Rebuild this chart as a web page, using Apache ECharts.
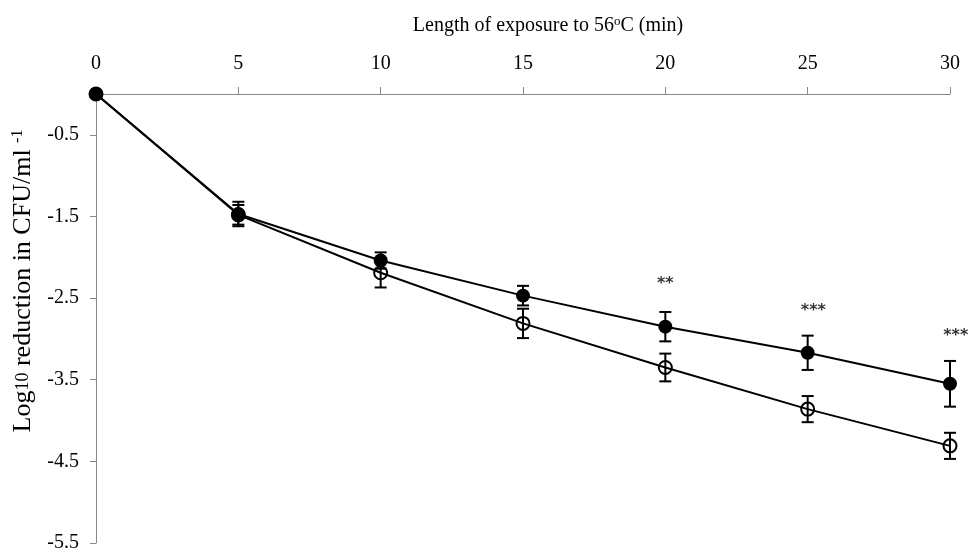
<!DOCTYPE html>
<html>
<head>
<meta charset="utf-8">
<script src="https://cdn.jsdelivr.net/npm/echarts@6/dist/echarts.min.js"></script>
<style>
  html, body { margin: 0; padding: 0; background: #fff; }
  #chart { width: 971px; height: 550px; }
</style>
</head>
<body>
<div id="chart"></div>
<script>
// exposure time (min)
const minutes = [0, 5, 10, 15, 20, 25, 30]
// filled circles
const filledMean = [0, -1.47, -2.04, -2.47, -2.85, -3.17, -3.55]
const filledErr = [0, 0.15, 0.10, 0.12, 0.18, 0.21, 0.28]
// open circles
const openMean = [0, -1.48, -2.19, -2.81, -3.35, -3.86, -4.31]
const openErr = [0, 0.12, 0.18, 0.18, 0.17, 0.16, 0.16]
// significance marks
const starX = [20, 25.2, 30.2]
const starY = [-2.33, -2.66, -2.96]
const starText = ['**', '***', '***']
// y tick labels
const yTicks = [-0.5, -1.5, -2.5, -3.5, -4.5, -5.5]

const FONT = 'Liberation Serif'

let myChart = echarts.init(document.getElementById('chart'))

// 误差线
function errorSeries (mean, err) {
  return {
    type: 'custom',
    z: 1,
    data: minutes.map((m, i) => [m, mean[i] + err[i], mean[i] - err[i]]),
    renderItem (params, api) {
      if (api.value(1) === api.value(2)) return null
      let top = api.coord([api.value(0), api.value(1)])
      let bottom = api.coord([api.value(0), api.value(2)])
      let w = 6
      let style = { stroke: '#000', lineWidth: 2 }
      return {
        type: 'group',
        children: [
          { type: 'line', shape: { x1: top[0], y1: top[1], x2: bottom[0], y2: bottom[1] }, style },
          { type: 'line', shape: { x1: top[0] - w, y1: top[1], x2: top[0] + w, y2: top[1] }, style },
          { type: 'line', shape: { x1: bottom[0] - w, y1: bottom[1], x2: bottom[0] + w, y2: bottom[1] }, style }
        ]
      }
    }
  }
}

let option = {
  animation: false,
  grid: { left: 96, right: 21, top: 94, bottom: 7, outerBoundsMode: 'none' },
  xAxis: {
    type: 'value',
    position: 'top',
    min: 0,
    max: 30,
    interval: 5,
    name: 'Length of exposure to 56{sup|o}C (min)',
    nameLocation: 'middle',
    nameGap: 57,
    nameTextStyle: {
      fontFamily: FONT, fontSize: 20, color: '#000',
      padding: [0, 0, 0, 50],
      rich: { sup: { fontFamily: FONT, fontSize: 13, verticalAlign: 'top', padding: [0, 0, 9, 0] } }
    },
    axisLine: { lineStyle: { color: '#888', width: 1 } },
    axisTick: { length: 7, lineStyle: { color: '#888' } },
    axisLabel: { margin: 20, fontFamily: FONT, fontSize: 20, color: '#000' },
    splitLine: { show: false }
  },
  yAxis: {
    type: 'value',
    min: -5.5,
    max: 0,
    name: 'Log{sub|10} reduction in CFU/ml {sup|-1}',
    nameLocation: 'middle',
    nameRotate: 90,
    nameGap: 58,
    nameTextStyle: {
      fontFamily: FONT, fontSize: 26, color: '#000',
      padding: [0, 0, 0, 75],
      rich: {
        sub: { fontFamily: FONT, fontSize: 18 },
        sup: { fontFamily: FONT, fontSize: 16, verticalAlign: 'top', padding: [0, 0, 11, 0] }
      }
    },
    axisLine: { show: true, lineStyle: { color: '#888', width: 1 } },
    axisTick: { show: true, length: 6, customValues: yTicks, lineStyle: { color: '#888' } },
    axisLabel: { margin: 17, fontFamily: FONT, fontSize: 20, color: '#000', customValues: yTicks },
    splitLine: { show: false }
  },
  series: [
    errorSeries(openMean, openErr),
    errorSeries(filledMean, filledErr),
    {
      type: 'line',
      z: 2,
      data: minutes.map((m, i) => [m, openMean[i]]),
      symbol: 'circle',
      symbolSize: 13,
      lineStyle: { color: '#000', width: 2 },
      itemStyle: { color: 'rgba(0,0,0,0)', borderColor: '#000', borderWidth: 2 }
    },
    {
      type: 'line',
      z: 3,
      data: minutes.map((m, i) => [m, filledMean[i]]),
      symbol: 'circle',
      symbolSize: 14,
      lineStyle: { color: '#000', width: 2 },
      itemStyle: { color: '#000' }
    },
    {
      type: 'scatter',
      clip: false,
      symbol: 'circle',
      symbolSize: 1,
      itemStyle: { color: 'rgba(0,0,0,0)' },
      data: starX.map((x, i) => [x, starY[i], starText[i]]),
      label: {
        show: true,
        position: 'inside',
        formatter: p => p.value[2],
        fontFamily: 'DejaVu Sans',
        fontWeight: 'bold',
        fontSize: 16,
        color: '#000'
      }
    }
  ]
}

myChart.setOption(option)
</script>
</body>
</html>
